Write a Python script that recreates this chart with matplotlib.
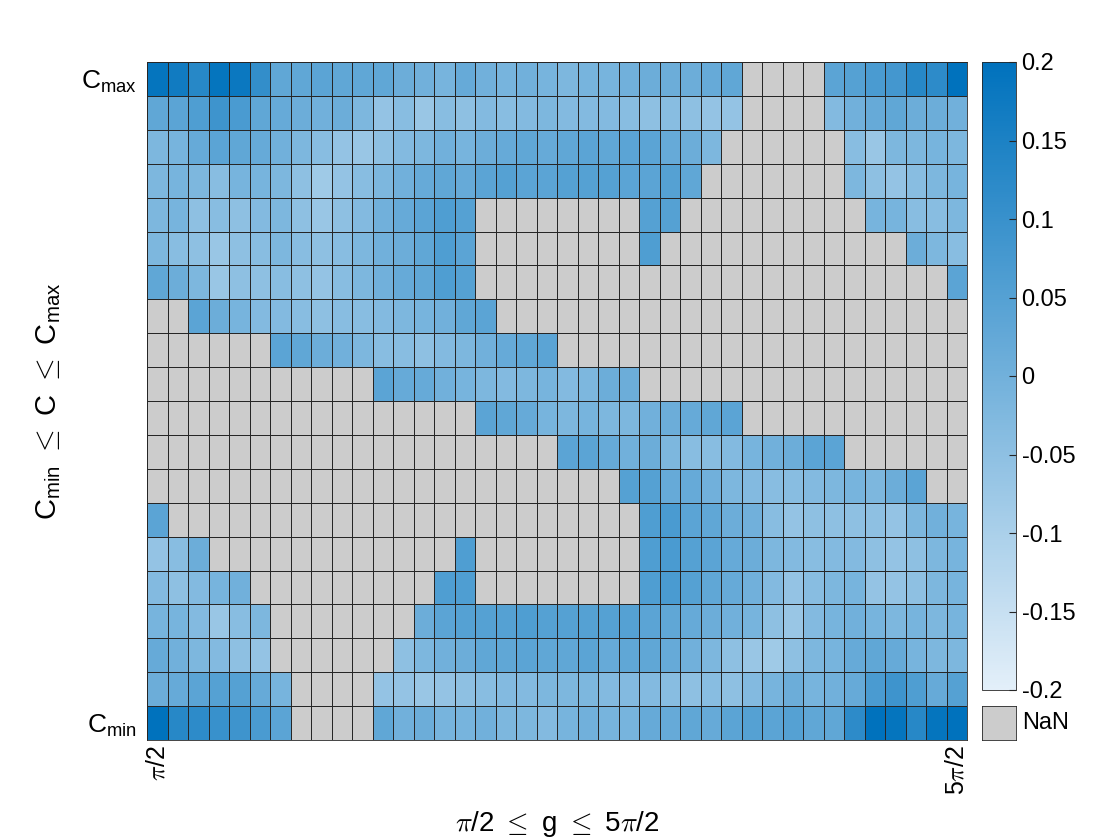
import numpy as np
import matplotlib.pyplot as plt
from matplotlib.colors import LinearSegmentedColormap

plt.rcParams['font.family'] = ['Liberation Sans', 'DejaVu Sans']
plt.rcParams['mathtext.fontset'] = 'cm'

n = np.nan

# rows from C_max (top) to C_min (bottom), 40 columns of g
values = [
    [0.19, 0.17, 0.13, 0.19, 0.18, 0.11, 0.03, 0.03, 0.04, 0.03, 0.03, 0.03, 0.01, 0.0, -0.01, 0.02, 0.0, -0.01, 0.0, -0.01,
     -0.02, -0.01, -0.01, 0.0, 0.01, 0.01, 0.01, 0.02, 0.03, n, n, n, n, 0.04, 0.05, 0.07, 0.08, 0.13, 0.12, 0.2],
    [0.03, 0.04, 0.06, 0.09, 0.07, 0.03, 0.02, 0.01, 0.0, 0.01, -0.02, -0.06, -0.04, -0.07, -0.04, -0.05, -0.03, -0.04, -0.03, -0.02,
     -0.03, -0.03, -0.03, -0.04, -0.05, -0.04, -0.05, -0.06, -0.06, n, n, n, n, -0.03, 0.0, 0.02, 0.03, 0.01, 0.01, 0.0],
    [-0.02, -0.01, 0.02, 0.04, 0.03, 0.02, 0.0, -0.02, -0.04, -0.06, -0.07, -0.05, -0.03, -0.02, 0.0, -0.01, 0.01, 0.02, 0.03, 0.02,
     0.03, 0.04, 0.03, 0.04, 0.04, 0.02, 0.01, -0.02, n, n, n, n, n, n, -0.04, -0.07, -0.02, -0.02, -0.01, -0.02],
    [-0.02, -0.01, -0.02, -0.04, -0.01, -0.01, -0.02, -0.05, -0.08, -0.06, -0.04, -0.02, 0.0, 0.02, 0.03, 0.02, 0.04, 0.05, 0.04, 0.04,
     0.05, 0.05, 0.05, 0.04, 0.04, 0.05, 0.03, n, n, n, n, n, n, n, -0.02, -0.05, -0.06, -0.04, -0.02, -0.01],
    [-0.02, -0.01, -0.05, -0.04, -0.05, -0.03, -0.02, -0.05, -0.07, -0.05, -0.03, 0.0, 0.02, 0.04, 0.06, 0.05, n, n, n, n,
     n, n, n, n, 0.05, 0.05, n, n, n, n, n, n, n, n, n, -0.01, -0.01, -0.04, -0.04, -0.02],
    [-0.02, -0.04, -0.05, -0.07, -0.05, -0.04, -0.02, -0.04, -0.05, -0.04, -0.02, 0.0, 0.01, 0.03, 0.06, 0.04, n, n, n, n,
     n, n, n, n, 0.06, n, n, n, n, n, n, n, n, n, n, n, n, 0.01, -0.02, -0.04],
    [0.03, 0.01, -0.02, -0.07, -0.05, -0.05, -0.04, -0.05, -0.06, -0.04, -0.02, 0.0, 0.02, 0.03, 0.06, 0.05, n, n, n, n,
     n, n, n, n, n, n, n, n, n, n, n, n, n, n, n, n, n, n, n, 0.04],
    [n, n, 0.04, 0.01, -0.01, -0.03, -0.03, -0.04, -0.05, -0.04, -0.04, -0.03, -0.02, -0.01, 0.0, 0.03, 0.04, n, n, n,
     n, n, n, n, n, n, n, n, n, n, n, n, n, n, n, n, n, n, n, n],
    [n, n, n, n, n, n, 0.04, 0.03, 0.01, 0.0, -0.02, -0.04, -0.04, -0.05, -0.03, -0.02, 0.0, 0.02, 0.03, 0.04,
     n, n, n, n, n, n, n, n, n, n, n, n, n, n, n, n, n, n, n, n],
    [n, n, n, n, n, n, n, n, n, n, n, 0.04, 0.02, 0.02, 0.0, -0.01, -0.02, -0.03, -0.02, -0.01,
     -0.03, -0.02, 0.01, 0.01, n, n, n, n, n, n, n, n, n, n, n, n, n, n, n, n],
    [n, n, n, n, n, n, n, n, n, n, n, n, n, n, n, n, 0.04, 0.03, 0.02, -0.01,
     -0.02, -0.01, -0.02, -0.02, 0.0, 0.01, 0.02, 0.03, 0.04, n, n, n, n, n, n, n, n, n, n, n],
    [n, n, n, n, n, n, n, n, n, n, n, n, n, n, n, n, n, n, n, n,
     0.04, 0.04, 0.02, 0.0, 0.01, -0.02, -0.04, -0.04, -0.03, -0.01, 0.0, 0.01, 0.04, 0.04, n, n, n, n, n, n],
    [n, n, n, n, n, n, n, n, n, n, n, n, n, n, n, n, n, n, n, n,
     n, n, n, 0.05, 0.05, 0.02, 0.02, 0.0, -0.02, -0.03, -0.04, -0.04, -0.03, -0.02, -0.01, -0.02, 0.01, 0.04, n, n],
    [0.04, n, n, n, n, n, n, n, n, n, n, n, n, n, n, n, n, n, n, n,
     n, n, n, n, 0.06, 0.07, 0.04, 0.03, 0.01, 0.0, -0.04, -0.06, -0.05, -0.05, -0.05, -0.05, -0.06, -0.02, 0.0, -0.01],
    [-0.06, -0.04, 0.01, n, n, n, n, n, n, n, n, n, n, n, n, 0.06, n, n, n, n,
     n, n, n, n, 0.06, 0.07, 0.05, 0.04, 0.02, 0.01, -0.02, -0.03, -0.04, -0.03, -0.03, -0.05, -0.06, -0.05, -0.02, -0.01],
    [-0.03, -0.05, -0.03, -0.01, 0.0, n, n, n, n, n, n, n, n, n, 0.06, 0.06, n, n, n, n,
     n, n, n, n, 0.06, 0.07, 0.05, 0.03, 0.02, 0.0, -0.03, -0.06, -0.04, -0.02, -0.01, -0.06, -0.06, -0.05, -0.02, -0.01],
    [-0.01, -0.01, -0.03, -0.07, -0.04, -0.02, n, n, n, n, n, n, n, 0.01, 0.04, 0.05, 0.05, 0.05, 0.06, 0.05,
     0.05, 0.05, 0.05, 0.05, 0.04, 0.03, 0.02, 0.01, 0.0, -0.01, -0.05, -0.07, -0.03, -0.01, 0.0, -0.01, -0.02, -0.01, -0.02, -0.01],
    [0.02, 0.0, -0.02, -0.03, -0.05, -0.06, n, n, n, n, n, n, -0.05, -0.02, 0.0, 0.01, 0.03, 0.03, 0.04, 0.03,
     0.03, 0.04, 0.02, 0.03, 0.03, 0.02, 0.0, -0.02, -0.05, -0.07, -0.08, -0.05, -0.02, -0.01, 0.02, 0.03, 0.02, -0.01, -0.02, -0.02],
    [0.01, 0.02, 0.04, 0.05, 0.05, 0.02, -0.01, n, n, n, n, -0.06, -0.06, -0.07, -0.06, -0.05, -0.04, -0.03, -0.03, -0.02,
     -0.02, -0.02, -0.03, -0.03, -0.03, -0.04, -0.05, -0.04, -0.05, -0.03, -0.01, 0.01, -0.01, 0.0, 0.02, 0.07, 0.09, 0.06, 0.02, 0.05],
    [0.2, 0.13, 0.12, 0.1, 0.09, 0.07, 0.04, n, n, n, n, 0.03, 0.0, 0.01, -0.01, -0.01, 0.0, -0.02, -0.02, -0.03,
     -0.01, 0.0, -0.01, -0.01, 0.02, 0.02, 0.03, 0.02, 0.04, 0.05, 0.04, 0.05, 0.03, 0.03, 0.12, 0.2, 0.19, 0.13, 0.19, 0.2],
]

x_ticklabels = [r'$\pi\mathregular{/2}$', r'$\mathregular{5}\pi\mathregular{/2}$']
y_ticklabels = [r'$\mathregular{C_{max}}$', r'$\mathregular{C_{min}}$']
cbar_ticks = [-0.2, -0.15, -0.1, -0.05, 0, 0.05, 0.1, 0.15, 0.2]
cbar_labels = ['-0.2', '-0.15', '-0.1', '-0.05', '0', '0.05', '0.1', '0.15', '0.2']

edge = '#262626'
cmap = LinearSegmentedColormap.from_list('heat_blue', ['#E3EFF9', '#0072BD'])
cmap.set_bad('#CCCCCC')

fig = plt.figure(figsize=(11.2, 8.4), dpi=100)
ax = fig.add_axes([147 / 1120, 100 / 840, 820 / 1120, 678 / 840])

grid = np.ma.masked_invalid(np.array(values))
nrows, ncols = grid.shape
mesh = ax.pcolormesh(grid, cmap=cmap, vmin=-0.2, vmax=0.2,
                     edgecolors=edge, linewidth=0.5)
ax.set_facecolor('#CCCCCC')
ax.set_xlim(0, ncols)
ax.set_ylim(nrows, 0)

ax.set_xticks([0.5, ncols - 0.5])
ax.set_xticklabels(x_ticklabels, rotation=90, fontsize=18)
ax.set_yticks([0.5, nrows - 0.5])
ax.set_yticklabels(y_ticklabels, fontsize=19)
ax.tick_params(axis='both', length=0)
ax.tick_params(axis='x', pad=4)
ax.tick_params(axis='y', pad=7)
for s in ax.spines.values():
    s.set_color(edge)
    s.set_linewidth(0.6)

ax.set_xlabel(r'$\pi\mathregular{/2}\ \leq\ \mathregular{g}\ \leq\ \mathregular{5}\pi\mathregular{/2}$', fontsize=20)
ax.xaxis.set_label_coords(0.5, -0.102)
ax.set_ylabel(r'$\mathregular{C_{min}}\ \leq\ \mathregular{C}\ \leq\ \mathregular{C_{max}}$', fontsize=21)
ax.yaxis.set_label_coords(-0.102, 0.5)

# colorbar
cax = fig.add_axes([982 / 1120, 150 / 840, 34 / 1120, 628 / 840])
cb = fig.colorbar(mesh, cax=cax, ticks=cbar_ticks)
cb.set_ticklabels(cbar_labels)
cb.ax.tick_params(direction='in', length=5, width=0.8, labelsize=17, pad=4, color=edge)
cb.outline.set_edgecolor(edge)
cb.outline.set_linewidth(0.6)

# NaN swatch
nax = fig.add_axes([982 / 1120, 100 / 840, 34 / 1120, 34 / 840])
nax.set_facecolor('#CCCCCC')
nax.set_xticks([])
nax.set_yticks([])
for s in nax.spines.values():
    s.set_color(edge)
    s.set_linewidth(0.6)
nax.text(1.18, 0.5, 'NaN', transform=nax.transAxes, va='center', ha='left', fontsize=17)

plt.savefig('out.png', dpi=100)
